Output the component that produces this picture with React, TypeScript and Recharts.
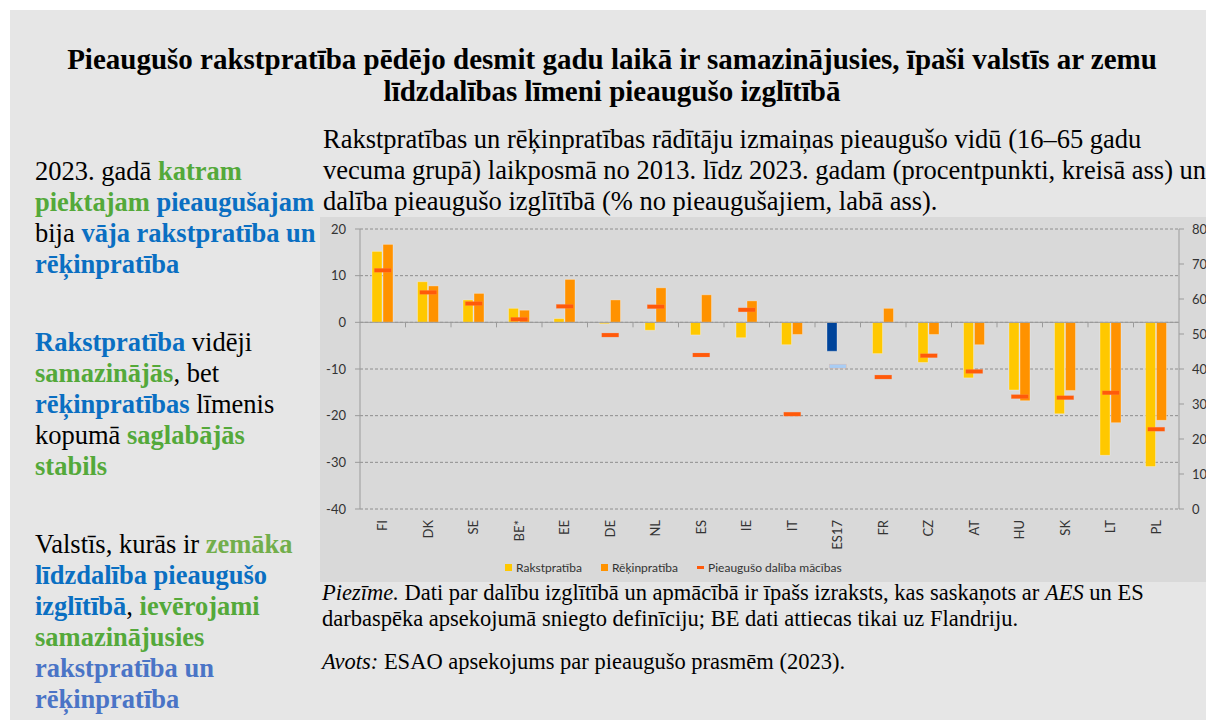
import React from 'react';
import {
  ComposedChart,
  Bar,
  Line,
  XAxis,
  YAxis,
  CartesianGrid,
  ReferenceLine,
  Cell,
} from 'recharts';

// ── Data ───────────────────────────────────────────────────────────────
const COUNTRIES = ['FI', 'DK', 'SE', 'BE*', 'EE', 'DE', 'NL', 'ES', 'IE', 'IT', 'ES17', 'FR', 'CZ', 'AT', 'HU', 'SK', 'LT', 'PL'];
// change 2013 → 2023, percentage points (left axis)
const LITERACY = [15.2, 8.7, 4.8, 3.0, 0.8, -0.3, -1.7, -2.7, -3.3, -4.8, -6.2, -6.7, -8.6, -11.9, -14.5, -19.6, -28.5, -30.9];
const NUMERACY = [16.7, 7.8, 6.2, 2.6, 9.2, 4.8, 7.4, 5.9, 4.6, -2.6, null, 3.0, -2.6, -4.8, -16.8, -14.6, -21.5, -21.0];
// adult participation in learning, % (right axis)
const PARTICIPATION = [68.2, 61.9, 58.7, 54.2, 57.9, 49.7, 57.8, 44.0, 56.9, 27.1, 40.8, 37.7, 43.8, 39.3, 32.1, 31.8, 33.2, 22.8];

const LEFT_TICKS = [20, 10, 0, -10, -20, -30, -40];
const RIGHT_TICKS = [0, 10, 20, 30, 40, 50, 60, 70, 80];
const EU_KEY = 'ES17';

const data = COUNTRIES.map((country, i) => ({
  country,
  literacy: LITERACY[i],
  numeracy: NUMERACY[i],
  participation: PARTICIPATION[i],
}));

// ── Styling ────────────────────────────────────────────────────────────
const YELLOW = '#ffc800';
const ORANGE = '#ff9200';
const MARK = '#ff5a0a';
const EU_BAR = '#00449a';
const EU_MARK = '#a9cdf4';
const AXIS = '#9b9b9b';
const TICK_TEXT = '#333333';
const GREEN = '#54a93a';
const LIGHT_GREEN = '#72ae4b';
const BLUE = '#0a6fc2';
const SOFT_BLUE = '#4a74c6';
const SANS = 'Lato, "Open Sans", sans-serif';
const SERIF = '"Liberation Serif", "Times New Roman", serif';

const CHART_W = 920;
const CHART_H = 365;
const MARGIN = { top: 12, right: 16, bottom: 28, left: 0 };
const X_AXIS_H = 45;
const LEFT_W = 40;
const RIGHT_W = 45;
const PLOT_W = CHART_W - MARGIN.left - MARGIN.right - LEFT_W - RIGHT_W;
const PLOT_H = CHART_H - MARGIN.top - MARGIN.bottom - X_AXIS_H;
const ZERO_Y = MARGIN.top + PLOT_H * (20 / 60);

function CountryTick(props: any) {
  const { x, y, payload, index } = props;
  const band = PLOT_W / COUNTRIES.length;
  const ty = y + 3;
  return (
    <g>
      {index > 0 && (
        <line x1={x - band / 2} x2={x - band / 2} y1={ZERO_Y} y2={ZERO_Y + 5} stroke={AXIS} />
      )}
      <text
        x={x}
        y={ty}
        transform={`rotate(-90, ${x}, ${ty})`}
        textAnchor="end"
        dy="0.36em"
        fontSize={13}
        fontFamily={SANS}
        fill={TICK_TEXT}
      >
        {payload.value}
      </text>
    </g>
  );
}

function ParticipationMark(props: any) {
  const { cx, cy, payload } = props;
  if (cx == null || cy == null || payload.participation == null) return <g />;
  const fill = payload.country === EU_KEY ? EU_MARK : MARK;
  return <rect x={cx - 8.5} y={cy - 2} width={17} height={4} fill={fill} stroke="#ff9a66" strokeOpacity={0.4} strokeWidth={0.5} />;
}

const b = (color: string, text: string) => (
  <span style={{ color, fontWeight: 'bold' }}>{text}</span>
);

const leftText = {
  position: 'absolute' as const,
  left: 35,
  fontFamily: SERIF,
  fontSize: 26.5,
  lineHeight: '31px',
  color: '#000',
  whiteSpace: 'nowrap' as const,
};

export default function App() {
  return (
    <div style={{ position: 'absolute', left: 0, top: 0, width: 1206, height: 720, overflow: 'hidden', background: '#fff' }}>
      <div style={{ position: 'absolute', left: 10, top: 10, width: 1220, height: 720, background: '#e6e6e6' }} />

      {/* Title */}
      <div
        style={{
          position: 'absolute', left: 10, top: 43, width: 1204, textAlign: 'center',
          fontFamily: SERIF, fontWeight: 'bold', fontSize: 29, lineHeight: '32px', color: '#000',
          whiteSpace: 'nowrap',
        }}
      >
        Pieaugušo rakstpratība pēdējo desmit gadu laikā ir samazinājusies, īpaši valstīs ar zemu
        <br />
        līdzdalības līmeni pieaugušo izglītībā
      </div>

      {/* Left commentary */}
      <div style={{ ...leftText, top: 156 }}>
        2023. gadā {b(GREEN, 'katram')}<br />
        {b(GREEN, 'piektajam')} {b(BLUE, 'pieaugušajam')}<br />
        bija {b(BLUE, 'vāja rakstpratība un')}<br />
        {b(BLUE, 'rēķinpratība')}
      </div>
      <div style={{ ...leftText, top: 327 }}>
        {b(BLUE, 'Rakstpratība')} vidēji<br />
        {b(GREEN, 'samazinājās')}, bet<br />
        {b(BLUE, 'rēķinpratības')} līmenis<br />
        kopumā {b(GREEN, 'saglabājās')}<br />
        {b(GREEN, 'stabils')}
      </div>
      <div style={{ ...leftText, top: 529 }}>
        Valstīs, kurās ir {b(LIGHT_GREEN, 'zemāka')}<br />
        {b(BLUE, 'līdzdalība pieaugušo')}<br />
        {b(BLUE, 'izglītībā')}, {b(GREEN, 'ievērojami')}<br />
        {b(GREEN, 'samazinājusies')}<br />
        {b(SOFT_BLUE, 'rakstpratība un')}<br />
        {b(SOFT_BLUE, 'rēķinpratība')}
      </div>

      {/* Chart heading */}
      <div style={{ position: 'absolute', left: 323, top: 124, fontFamily: SERIF, fontSize: 26.5, lineHeight: '31px', color: '#000', whiteSpace: 'nowrap' }}>
        Rakstpratības un rēķinpratības rādītāju izmaiņas pieaugušo vidū (16–65 gadu<br />
        vecuma grupā) laikposmā no 2013. līdz 2023. gadam (procentpunkti, kreisā ass) un<br />
        dalība pieaugušo izglītībā (% no pieaugušajiem, labā ass).
      </div>

      {/* Chart */}
      <div style={{ position: 'absolute', left: 320, top: 217, width: CHART_W, height: CHART_H, background: '#d9d9d9' }}>
        <ComposedChart width={CHART_W} height={CHART_H} data={data} margin={MARGIN} barSize={10} barGap={1}>
          <CartesianGrid yAxisId="left" vertical={false} stroke="#8e8e8e" strokeDasharray="3 2" />
          <XAxis
            dataKey="country"
            height={X_AXIS_H}
            axisLine={false}
            tickLine={false}
            interval={0}
            tick={<CountryTick />}
          />
          <YAxis
            yAxisId="left"
            domain={[-40, 20]}
            ticks={LEFT_TICKS}
            width={LEFT_W}
            axisLine={{ stroke: AXIS }}
            tickLine={{ stroke: AXIS }}
            tickSize={5}
            tickMargin={9}
            tick={{ fontSize: 13, fontFamily: SANS, fill: TICK_TEXT }}
          />
          <YAxis
            yAxisId="right"
            orientation="right"
            domain={[0, 80]}
            ticks={RIGHT_TICKS}
            width={RIGHT_W}
            axisLine={{ stroke: AXIS }}
            tickLine={{ stroke: AXIS }}
            tickSize={5}
            tickMargin={8}
            tick={{ fontSize: 13, fontFamily: SANS, fill: TICK_TEXT, textAnchor: 'start' }}
          />
          <ReferenceLine yAxisId="left" y={0} stroke={AXIS} strokeWidth={1} />
          <Bar yAxisId="left" dataKey="literacy" fill={YELLOW} stroke="#ffffff" strokeOpacity={0.3} isAnimationActive={false}>
            {data.map((d, i) => (
              <Cell key={i} fill={d.country === EU_KEY ? EU_BAR : YELLOW} />
            ))}
          </Bar>
          <Bar yAxisId="left" dataKey="numeracy" fill={ORANGE} stroke="#ffffff" strokeOpacity={0.3} isAnimationActive={false} />
          <Line
            yAxisId="right"
            dataKey="participation"
            stroke="none"
            dot={(p: any) => <ParticipationMark key={p.index} {...p} />}
            activeDot={false}
            isAnimationActive={false}
          />
        </ComposedChart>
      </div>

      {/* Legend */}
      <div style={{ position: 'absolute', left: 505, top: 560, display: 'flex', alignItems: 'center', fontFamily: SANS, fontSize: 12, color: TICK_TEXT, whiteSpace: 'nowrap' }}>
        <span style={{ width: 7, height: 7, background: YELLOW, marginRight: 4 }} />
        <span style={{ marginRight: 19 }}>Rakstpratība</span>
        <span style={{ width: 7, height: 7, background: ORANGE, marginRight: 4 }} />
        <span style={{ marginRight: 19 }}>Rēķinpratība</span>
        <span style={{ width: 7, height: 3, background: MARK, marginRight: 4 }} />
        <span>Pieaugušo dalība mācības</span>
      </div>

      {/* Notes */}
      <div style={{ position: 'absolute', left: 322, top: 580, fontFamily: SERIF, fontSize: 22.5, lineHeight: '26px', color: '#000', whiteSpace: 'nowrap' }}>
        <i>Piezīme.</i> Dati par dalību izglītībā un apmācībā ir īpašs izraksts, kas saskaņots ar <i>AES</i> un ES<br />
        darbaspēka apsekojumā sniegto definīciju; BE dati attiecas tikai uz Flandriju.
      </div>
      <div style={{ position: 'absolute', left: 322, top: 649, fontFamily: SERIF, fontSize: 22.5, lineHeight: '26px', color: '#000', whiteSpace: 'nowrap' }}>
        <i>Avots:</i> ESAO apsekojums par pieaugušo prasmēm (2023).
      </div>
    </div>
  );
}
